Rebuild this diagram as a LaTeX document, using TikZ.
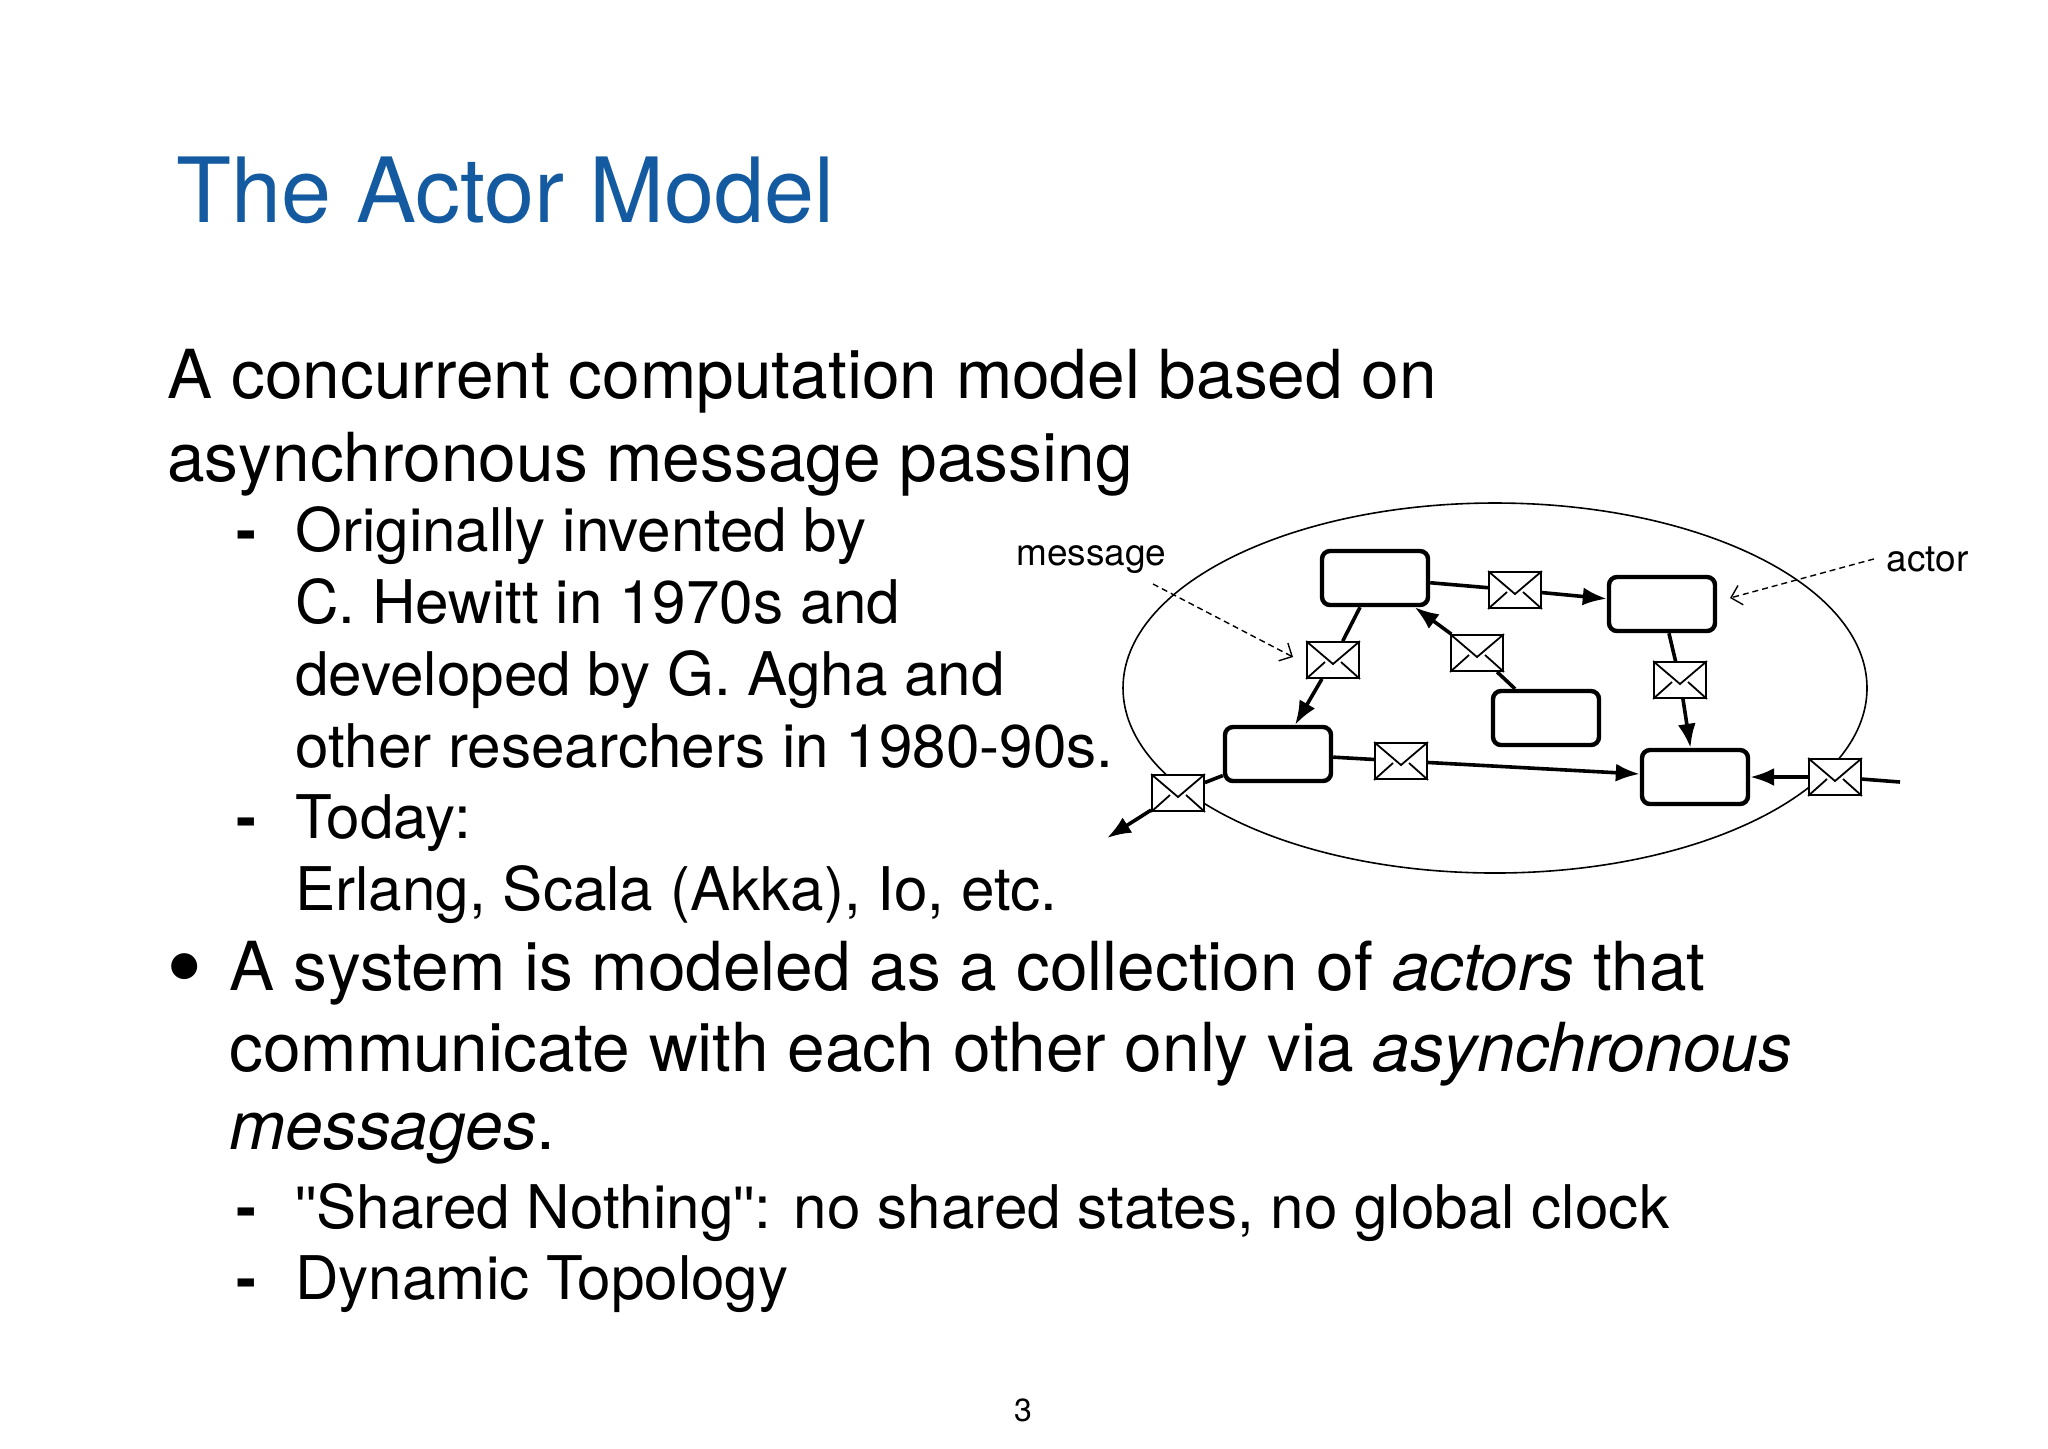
\documentclass[tikz,border=0pt]{standalone}
\usepackage{fontspec}
\setmainfont{TeX Gyre Heros}
\newfontfamily\libfont{Liberation Sans}
\newcommand{\dq}{{\libfont\symbol{34}}}
\usetikzlibrary{arrows.meta}
\definecolor{titleblue}{RGB}{20,90,160}
\begin{document}
\begin{tikzpicture}[x=0.5pt,y=-0.5pt,
  txt/.style={anchor=base west,inner sep=0,font=\fontsize{33.8}{40}\selectfont},
  subtxt/.style={anchor=base west,inner sep=0,font=\fontsize{30.1}{34}\selectfont},
  lbl/.style={anchor=base west,inner sep=0,font=\fontsize{18.5}{22}\selectfont},
  actor/.style={draw,line width=2.2pt,rounded corners=4pt,fill=white},
  env/.style={draw,line width=0.9pt,fill=white,minimum width=26pt,minimum height=18pt,inner sep=0},
  conn/.style={line width=1.8pt},
  arr/.style={line width=1.8pt,-{Latex[length=12pt,width=9pt]}},
  dots/.style={densely dashed,line width=0.7pt,-{Straight Barb[length=5pt]}}]
\useasboundingbox (0,0) rectangle (2048,1448);
\node[anchor=base west,inner sep=0,text=titleblue,font=\fontsize{45}{50}\selectfont] (title) at (176,222) {The Actor Model};
\node[txt] (l1) at (167,398) {A concurrent computation model based on};
\node[txt] (l2) at (167,481) {asynchronous message passing};
\foreach \y/\t [count=\i] in {551/Originally invented by,623/C. Hewitt in 1970s and,695/developed by G. Agha and,767/other researchers in 1980-90s.,838/Today:,910/{Erlang, Scala (Akka), Io, etc.}}
  \node[subtxt] (s\i) at (295,\y) {\t};
\node[subtxt] (d1) at (236,551) {\textbf{-}};
\node[subtxt] (d2) at (236,838) {\textbf{-}};
\node[anchor=base west,inner sep=0,font=\fontsize{52}{52}\selectfont] (b) at (166,1002) {•};
\node[txt] (m1) at (229,990) {A system is modeled as a collection of \textit{actors} that};
\node[txt] (m2) at (229,1071) {communicate with each other only via \textit{asynchronous}};
\node[txt] (m3) at (229,1149) {\textit{messages}.};
\node[subtxt] (d3) at (236,1228) {\textbf{-}};
\node[subtxt] (d4) at (236,1299) {\textbf{-}};
\node[subtxt] (t1) at (295,1228) {\dq Shared Nothing\dq: no shared states, no global clock};
\node[subtxt] (t2) at (295,1299) {Dynamic Topology};
\node[anchor=base,inner sep=0,font=\fontsize{16}{18}\selectfont] (pg) at (1023,1421) {3};
% diagram
\draw[line width=0.8pt] (1495,688) ellipse [x radius=372, y radius=185];
\node[actor,minimum width=53pt,minimum height=27pt] (A1) at (1375,578) {};
\node[actor,minimum width=53pt,minimum height=27pt] (A2) at (1662,604) {};
\node[actor,minimum width=53pt,minimum height=27pt] (A3) at (1546,718) {};
\node[actor,minimum width=53pt,minimum height=27pt] (A4) at (1278,754) {};
\node[actor,minimum width=53pt,minimum height=27pt] (A5) at (1695,777) {};
\foreach \n/\x/\y in {E1/1515/590,E2/1333/660,E3/1477/653,E4/1680/680,E5/1401/761,E6/1178/793,E7/1835/777}{
  \node[env] (\n) at (\x,\y) {};
  \draw[line width=0.9pt] (\n.north west) -- ([yshift=-2pt]\n.center) -- (\n.north east);
  \draw[line width=0.9pt] (\n.south west) -- ([xshift=-4pt,yshift=-1pt]\n.center);
  \draw[line width=0.9pt] (\n.south east) -- ([xshift=4pt,yshift=-1pt]\n.center);
}
\coordinate (out) at (1107,838);
\coordinate (in) at (1900,782);
\draw[conn] (A1) -- (E1); \draw[arr] (E1) -- (A2);
\draw[conn] (A1) -- (E2); \draw[arr] (E2) -- (A4);
\draw[conn] (A3) -- (E3); \draw[arr] (E3) -- (A1);
\draw[conn] (A2) -- (E4); \draw[arr] (E4) -- (A5);
\draw[conn] (A4) -- (E5); \draw[arr] (E5) -- (A5);
\draw[conn] (A4) -- (E6); \draw[arr] (E6) -- (out);
\draw[conn] (in) -- (E7); \draw[arr] (E7) -- (A5);
\node[lbl] (msg) at (1016,565) {message};
\node[lbl] (act) at (1886,571) {actor};
\draw[dots] (1153,584) -- (1293,657);
\draw[dots] (act.west) ++(-6pt,0) -- (1730,598);
\end{tikzpicture}
\end{document}
